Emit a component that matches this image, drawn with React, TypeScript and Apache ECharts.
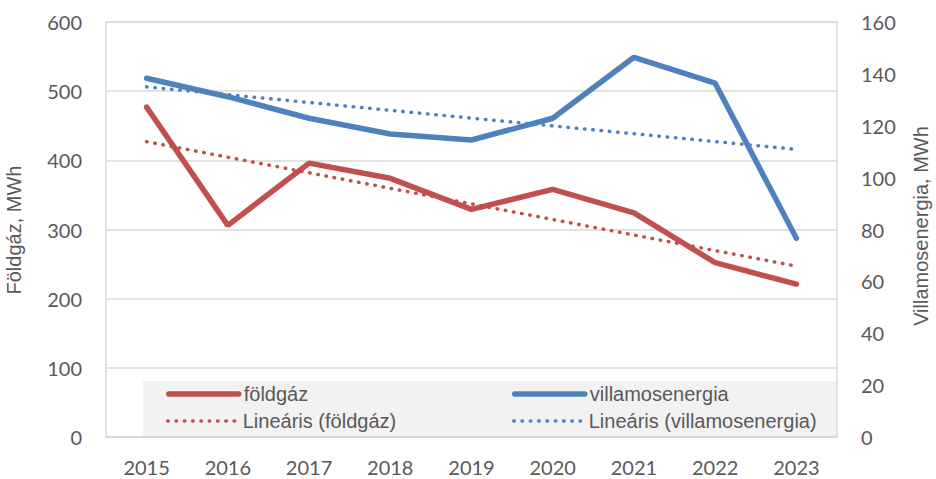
import React, { useEffect, useRef } from "react";
import * as echarts from "echarts";

const years = ["2015", "2016", "2017", "2018", "2019", "2020", "2021", "2022", "2023"];
const foldgaz = [477, 306, 396, 374, 329, 358, 324, 252, 221];
const villamos = [138.3, 131.2, 122.9, 116.8, 114.5, 122.9, 146.4, 136.4, 76.6];
const trendFoldgaz = [427, null, null, null, null, null, null, null, 247];
const trendVillamos = [135, null, null, null, null, null, null, null, 110.9];
const leftTicks = { min: 0, max: 600, interval: 100 };
const rightTicks = { min: 0, max: 160, interval: 20 };

const RED = "#C0504D";
const BLUE = "#4F81BD";
const TXT = "#595959";
const GRID = "#D9D9D9";
const DOTS = [0.5, 7.8];

export default function App() {
  const ref = useRef<HTMLDivElement>(null);
  useEffect(() => {
    if (!ref.current) return;
    const chart = echarts.init(ref.current, undefined, { renderer: "svg" });
    const legendText = { color: TXT, fontSize: 20, fontFamily: "Liberation Sans, Arial, sans-serif", lineHeight: 22 };
    const mkLegend = (name: string, left: number, top: number, color: string, dotted: boolean) => ({
      data: [name],
      left,
      top,
      padding: 0,
      itemWidth: 70,
      itemHeight: 14,
      itemGap: 6,
      textStyle: legendText,
      selectedMode: false,
      itemStyle: { opacity: 0 },
      lineStyle: dotted
        ? { color, width: 3.5, type: DOTS, cap: "round" }
        : { color, width: 5.5, type: "solid", cap: "round" },
    });
    chart.setOption({
      animation: false,
      grid: {
        left: 106,
        right: 99,
        top: 22,
        bottom: 42,
        show: true,
        borderColor: GRID,
        borderWidth: 1.5,
        backgroundColor: "transparent",
      },
      graphic: [
        {
          type: "rect",
          z: 0,
          shape: { x: 143, y: 381, width: 693, height: 55 },
          style: { fill: "#F2F2F2" },
        },
        {
          type: "text",
          x: 14,
          y: 230,
          rotation: Math.PI / 2,
          style: {
            text: "Földgáz, MWh",
            fill: TXT,
            fontSize: 20,
            fontFamily: "Liberation Sans, Arial, sans-serif",
            align: "center",
            verticalAlign: "middle",
          },
        },
        {
          type: "text",
          x: 921,
          y: 226,
          rotation: Math.PI / 2,
          style: {
            text: "Villamosenergia, MWh",
            fill: TXT,
            fontSize: 20,
            fontFamily: "Liberation Sans, Arial, sans-serif",
            align: "center",
            verticalAlign: "middle",
          },
        },
      ],
      legend: [
        mkLegend("földgáz", 166, 383, RED, false),
        mkLegend("Lineáris (földgáz)", 166, 410, RED, true),
        mkLegend("villamosenergia", 512, 383, BLUE, false),
        mkLegend("Lineáris (villamosenergia)", 512, 410, BLUE, true),
      ],
      xAxis: {
        type: "category",
        data: years,
        boundaryGap: true,
        axisLine: { show: true, lineStyle: { color: GRID, width: 1.5 } },
        axisTick: { show: false },
        axisLabel: { color: TXT, fontSize: 20, fontFamily: "Lato, sans-serif", margin: 20 },
      },
      yAxis: [
        {
          type: "value",
          ...leftTicks,
          axisLine: { show: false },
          axisTick: { show: false },
          axisLabel: { color: TXT, fontSize: 20, fontFamily: "Lato, sans-serif", margin: 24 },
          splitLine: { show: true, lineStyle: { color: GRID, width: 1.5 } },
        },
        {
          type: "value",
          ...rightTicks,
          axisLine: { show: false },
          axisTick: { show: false },
          axisLabel: { color: TXT, fontSize: 20, fontFamily: "Lato, sans-serif", margin: 24 },
          splitLine: { show: false },
        },
      ],
      series: [
        {
          name: "Lineáris (földgáz)",
          type: "line",
          yAxisIndex: 0,
          data: trendFoldgaz,
          connectNulls: true,
          symbol: "none",
          z: 3,
          lineStyle: { color: RED, width: 3.5, type: DOTS, cap: "round" },
          itemStyle: { color: RED },
        },
        {
          name: "Lineáris (villamosenergia)",
          type: "line",
          yAxisIndex: 1,
          data: trendVillamos,
          connectNulls: true,
          symbol: "none",
          z: 3,
          lineStyle: { color: BLUE, width: 3.5, type: DOTS, cap: "round" },
          itemStyle: { color: BLUE },
        },
        {
          name: "földgáz",
          type: "line",
          yAxisIndex: 0,
          data: foldgaz,
          symbol: "none",
          z: 4,
          lineStyle: { color: RED, width: 5.5, cap: "round" },
          itemStyle: { color: RED },
        },
        {
          name: "villamosenergia",
          type: "line",
          yAxisIndex: 1,
          data: villamos,
          symbol: "none",
          z: 4,
          lineStyle: { color: BLUE, width: 5.5, cap: "round" },
          itemStyle: { color: BLUE },
        },
      ],
    });
    return () => chart.dispose();
  }, []);
  return <div ref={ref} style={{ width: 936, height: 479, position: "absolute", left: 0, top: 0 }} />;
}
